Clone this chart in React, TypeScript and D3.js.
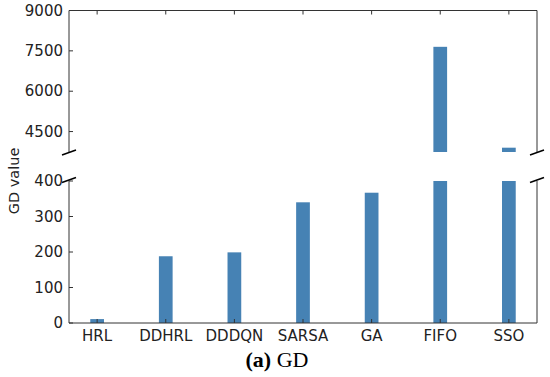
import * as d3 from "d3";
import React from "react";

// values (GD value per method)
const methods = ["HRL", "DDHRL", "DDDQN", "SARSA", "GA", "FIFO", "SSO"];
const gdValues = [11, 188, 199, 340, 367, 7650, 3900];
const topTicks = [4500, 6000, 7500, 9000];
const bottomTicks = [0, 100, 200, 300, 400];

const W = 550;
const H = 377;
const barColor = "#4682b4";
const axisColor = "#333";
const font = "'DejaVu Sans', sans-serif";

export default function App() {
  const left = 69;
  const right = 537;

  const x = d3.scaleLinear().domain([-0.41, methods.length - 1 + 0.41]).range([left, right]);
  const yTop = d3.scaleLinear().domain([3740, 9000]).range([152, 10.5]);
  const yBot = d3.scaleLinear().domain([0, 400]).range([323, 181]);
  const barW = x(0.2) - x(0);

  const [topMin, topMax] = yTop.domain();
  const [botMin, botMax] = yBot.domain();

  // little diagonal marks for the axis break
  const breakMark = (cx: number, cy: number, key: string) => (
    <line
      key={key}
      x1={cx - 7}
      y1={cy + 2.5}
      x2={cx + 7}
      y2={cy - 2.5}
      stroke="#000"
      strokeWidth={1.5}
    />
  );

  return (
    <svg
      width={W}
      height={H}
      style={{ position: "absolute", left: 0, top: 0, background: "#fff", fontFamily: font }}
    >
      {/* top panel bars */}
      {gdValues.map((v, i) =>
        v > topMin ? (
          <rect
            key={"t" + i}
            x={x(i) - barW / 2}
            y={yTop(Math.min(v, topMax))}
            width={barW}
            height={yTop(topMin) - yTop(Math.min(v, topMax))}
            fill={barColor}
          />
        ) : null
      )}
      {/* bottom panel bars */}
      {gdValues.map((v, i) => (
        <rect
          key={"b" + i}
          x={x(i) - barW / 2}
          y={yBot(Math.min(v, botMax))}
          width={barW}
          height={yBot(botMin) - yBot(Math.min(v, botMax))}
          fill={barColor}
        />
      ))}

      {/* top panel spines */}
      <path
        d={`M${left},${yTop(topMin)}V${yTop(topMax)}H${right}V${yTop(topMin)}`}
        fill="none"
        stroke={axisColor}
        strokeWidth={1}
      />
      {/* bottom panel spines */}
      <path
        d={`M${left},${yBot(botMax)}V${yBot(botMin)}H${right}V${yBot(botMax)}`}
        fill="none"
        stroke={axisColor}
        strokeWidth={1}
      />

      {/* x ticks, inward, on the top and bottom edges */}
      {methods.map((m, i) => (
        <g key={m}>
          <line x1={x(i)} x2={x(i)} y1={yTop(topMax)} y2={yTop(topMax) + 4} stroke={axisColor} />
          <line x1={x(i)} x2={x(i)} y1={yBot(botMin)} y2={yBot(botMin) - 4} stroke={axisColor} />
          <text x={x(i)} y={341} textAnchor="middle" fontSize={15} fill="#222">
            {m}
          </text>
        </g>
      ))}

      {/* y ticks top */}
      {topTicks.map((t) => (
        <g key={"yt" + t}>
          <line x1={left} x2={left + 4} y1={yTop(t)} y2={yTop(t)} stroke={axisColor} />
          <text x={left - 6} y={yTop(t)} dy="0.35em" textAnchor="end" fontSize={15} fill="#222">
            {t}
          </text>
        </g>
      ))}
      {/* y ticks bottom */}
      {bottomTicks.map((t) => (
        <g key={"yb" + t}>
          <line x1={left} x2={left + 4} y1={yBot(t)} y2={yBot(t)} stroke={axisColor} />
          <text x={left - 6} y={yBot(t)} dy="0.35em" textAnchor="end" fontSize={15} fill="#222">
            {t}
          </text>
        </g>
      ))}

      {/* break marks */}
      {breakMark(left, yTop(topMin) + 0.5, "bl1")}
      {breakMark(left, yBot(botMax) - 1, "bl2")}
      {breakMark(right, yTop(topMin) + 0.5, "br1")}
      {breakMark(right, yBot(botMax) - 1, "br2")}

      {/* y label */}
      <text
        transform={`translate(19,181) rotate(-90)`}
        textAnchor="middle"
        fontSize={14.5}
        fill="#222"
      >
        GD value
      </text>

      {/* caption */}
      <text x={277} y={367} textAnchor="middle" fontSize={22} fontFamily="'Liberation Serif', serif" fill="#000">
        <tspan fontWeight="bold">(a)</tspan> GD
      </text>
    </svg>
  );
}
